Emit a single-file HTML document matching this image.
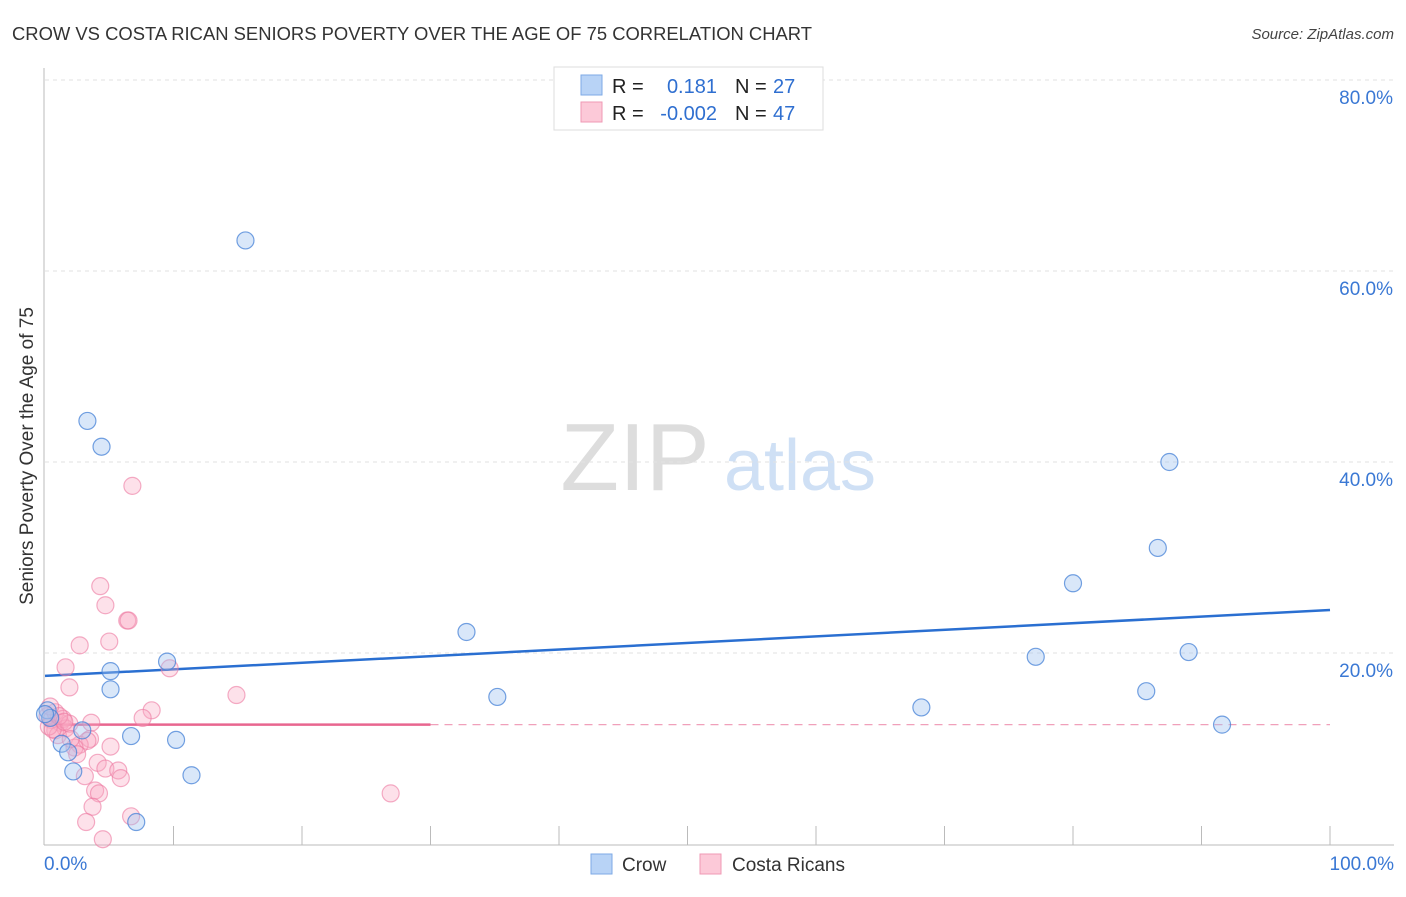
<!DOCTYPE html>
<html><head><meta charset="utf-8"><style>
body{margin:0;background:#fff;font-family:"Liberation Sans",sans-serif;}
svg text{font-family:"Liberation Sans",sans-serif;}
</style></head><body>
<svg id="chart" width="1406" height="892" xmlns="http://www.w3.org/2000/svg">
<text x="12" y="40" font-size="18" fill="#333" textLength="800" lengthAdjust="spacingAndGlyphs">CROW VS COSTA RICAN SENIORS POVERTY OVER THE AGE OF 75 CORRELATION CHART</text>
<text x="1394" y="39" font-size="15" fill="#444" text-anchor="end" font-style="italic">Source: ZipAtlas.com</text>
<text transform="translate(33,456) rotate(-90)" font-size="19" fill="#333" text-anchor="middle">Seniors Poverty Over the Age of 75</text>
<g>
<text x="635" y="490" font-size="96" fill="#ddd" text-anchor="middle" font-family="Liberation Serif">ZIP</text>
<text x="800" y="490" font-size="72" fill="#cfe0f5" text-anchor="middle">atlas</text>
</g>
<g id="grid"></g>
<g id="axes"></g>
<g id="lines"></g>
<g id="pts"></g>
<g>
<rect x="554" y="67" width="269" height="63" fill="#fff" stroke="#ddd"/>
<rect x="581" y="75" width="21" height="20" fill="#b8d3f6" stroke="#7ea9e6"/>
<rect x="581" y="102" width="21" height="20" fill="#fcc9d8" stroke="#ef99b4"/>
<text x="612" y="93" font-size="20" fill="#222">R =</text>
<text x="717" y="93" font-size="20" fill="#2f6fd0" text-anchor="end">0.181</text>
<text x="735" y="93" font-size="20" fill="#222">N =</text>
<text x="773" y="93" font-size="20" fill="#2f6fd0">27</text>
<text x="612" y="120" font-size="20" fill="#222">R =</text>
<text x="717" y="120" font-size="20" fill="#2f6fd0" text-anchor="end">-0.002</text>
<text x="735" y="120" font-size="20" fill="#222">N =</text>
<text x="773" y="120" font-size="20" fill="#2f6fd0">47</text>
</g>
<g>
<rect x="591" y="854" width="21" height="20" fill="#b8d3f6" stroke="#7ea9e6"/>
<text x="622" y="871" font-size="19" fill="#333">Crow</text>
<rect x="700" y="854" width="21" height="20" fill="#fcc9d8" stroke="#ef99b4"/>
<text x="732" y="871" font-size="19" fill="#333">Costa Ricans</text>
</g>
</svg>
<script>
const yTicks=[20,40,60,80];
const yTickLabels=["20.0%","40.0%","60.0%","80.0%"];
const xTickLabels=["0.0%","100.0%"];
const crowX=[15.6,3.3,4.4,87.5,86.6,80.0,32.8,77.1,89.0,9.5,5.1,5.1,85.7,35.2,68.2,91.6,0.2,0.4,2.9,6.7,10.2,1.3,1.8,2.2,11.4,7.1,0.0];
const crowY=[63.2,44.3,41.6,40.0,31.0,27.3,22.2,19.6,20.1,19.1,18.1,16.2,16.0,15.4,14.3,12.5,14.0,13.2,11.9,11.3,10.9,10.5,9.6,7.6,7.2,2.3,13.6];
const costaX=[4.3,4.7,6.4,6.5,2.7,5.0,1.6,1.9,9.7,14.9,8.3,7.6,6.8,26.9,0.2,0.5,0.8,1.2,1.4,1.6,0.8,1.9,1.0,3.6,3.5,2.7,3.3,5.1,2.3,2.5,4.1,4.7,5.7,5.9,3.1,3.9,4.2,3.7,3.2,4.5,6.7,0.3,0.6,1.1,2.0,0.4,1.5];
const costaY=[27.0,25.0,23.4,23.4,20.8,21.2,18.5,16.4,18.4,15.6,14.0,13.2,37.5,5.3,13.4,13.0,13.8,12.7,13.1,12.1,11.9,12.6,11.4,12.7,11.0,10.4,10.8,10.2,10.1,9.4,8.5,7.9,7.7,6.9,7.1,5.6,5.3,3.9,2.3,0.5,2.9,12.3,12.0,13.4,11.0,14.4,12.8];
const crowLine=[17.6,24.5];
const costaLineY=12.5, costaLineEnd=30;
const X=v=>45+v*12.85, Y=v=>844-v*9.55;
const NS="http://www.w3.org/2000/svg";
function mk(p,t,a){const e=document.createElementNS(NS,t);for(const k in a)e.setAttribute(k,a[k]);document.getElementById(p).appendChild(e);return e;}
yTicks.forEach((t,i)=>{
 const l=mk('grid','line',{x1:45,x2:1394,y1:Y(t),y2:Y(t),stroke:'#e2e2e2','stroke-dasharray':'4,4'});
 
 
 const tx=mk('axes','text',{x:1393,y:Y(t)+24,'font-size':19,fill:'#3a78d4','text-anchor':'end'});tx.textContent=yTickLabels[i];
 
 
});
const ax=mk('axes','line',{x1:44,x2:44,y1:68,y2:845,stroke:'#bbb'});


const bx=mk('axes','line',{x1:44,x2:1394,y1:845,y2:845,stroke:'#bbb'});


for(let i=1;i<=10;i++){const t=mk('axes','line',{x1:X(i*10),x2:X(i*10),y1:826,y2:845,stroke:'#bbb'});
 
 }
[[0,'start',44],[100,'end',1394]].forEach((d,i)=>{const t=mk('axes','text',{x:d[2],y:870,'font-size':19,fill:'#3a78d4','text-anchor':d[1]});t.textContent=xTickLabels[i];
 
 });
costaX.forEach((x,i)=>{const c=mk('pts','circle',{cx:X(x),cy:Y(costaY[i]),r:8.5,fill:'rgba(248,170,196,0.35)',stroke:'rgba(236,120,160,0.6)','stroke-width':1.2});
 
 });
crowX.forEach((x,i)=>{const c=mk('pts','circle',{cx:X(x),cy:Y(crowY[i]),r:8.5,fill:'rgba(160,196,240,0.4)',stroke:'rgba(70,130,215,0.75)','stroke-width':1.2});
 
 });
const bl=mk('lines','line',{x1:X(0),x2:X(100),y1:Y(crowLine[0]),y2:Y(crowLine[1]),stroke:'#2a6fd1','stroke-width':2.5});


const pl=mk('lines','line',{x1:X(0),x2:X(costaLineEnd),y1:Y(costaLineY),y2:Y(costaLineY),stroke:'#e8668f','stroke-width':2.5});


const pd=mk('lines','line',{x1:X(costaLineEnd),x2:X(100),y1:Y(costaLineY),y2:Y(costaLineY),stroke:'#f0a0ba','stroke-width':1.2,'stroke-dasharray':'8,6'});


</script>
</body></html>
